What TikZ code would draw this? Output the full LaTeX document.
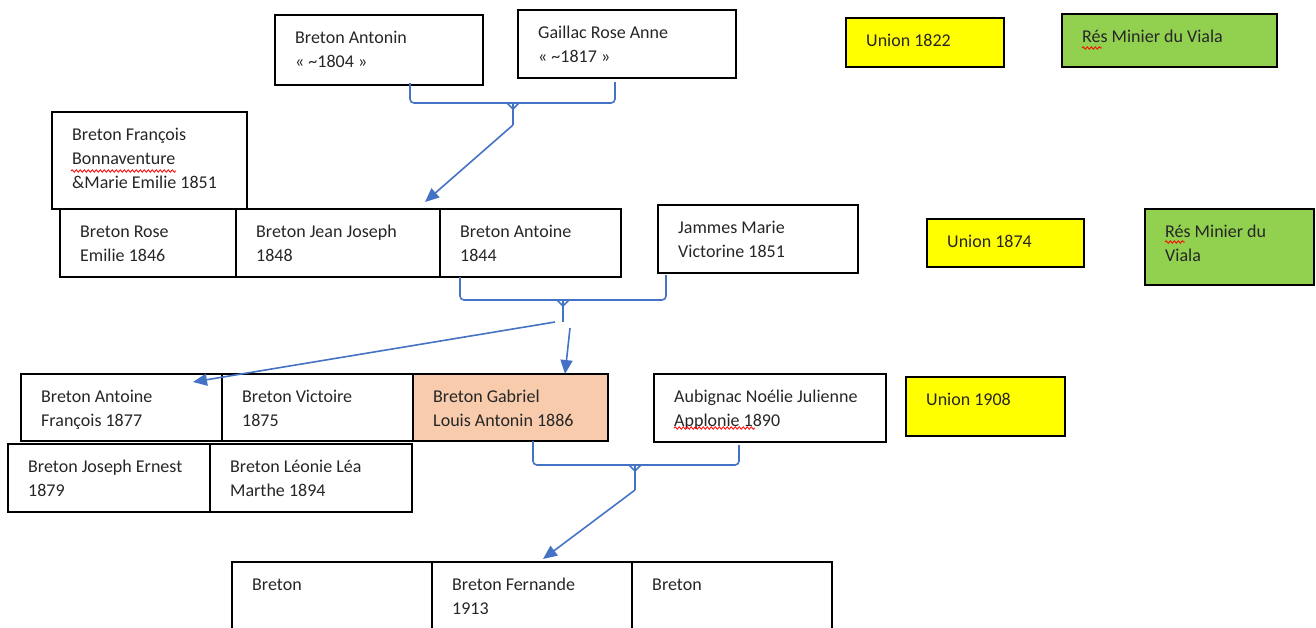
\documentclass[tikz,border=0pt]{standalone}
\usepackage{fontspec}
\setmainfont{Carlito}
\usetikzlibrary{arrows.meta,calc,decorations.pathmorphing}
\definecolor{cyel}{HTML}{FFFF00}
\definecolor{cgreen}{HTML}{92D050}
\definecolor{cpeach}{HTML}{F8CBAD}
\definecolor{cblue}{HTML}{4472C4}
\definecolor{txtc}{HTML}{262626}
\tikzset{
  cell/.style={draw=black, line width=1.4pt, rectangle, inner sep=0pt, outer sep=0pt},
  txt/.style={inner sep=0pt, align=left, font=\fontsize{18}{24}\selectfont, text=txtc, anchor=north west},
  conn/.style={draw=cblue, line width=1.6pt},
  arr/.style={conn, -{Triangle[length=14pt,width=12pt]}},
  squig/.style={draw=red, line width=0.8pt, decorate, decoration={snake, amplitude=1.2pt, segment length=4pt}},
  uni/.style={fill=cyel},
  res/.style={fill=cgreen},
  hl/.style={fill=cpeach}
}
\newcommand\famcell[6][]{%
  \node[cell,#1,minimum width=#4pt,minimum height=#5pt,anchor=north west] (#2) at (#3) {};
  \node[txt] (#2-t) at ($(#2.north west)+(20,11)$) {\strut #6};}
\begin{document}
\begin{tikzpicture}[x=1pt,y=-1pt]
\useasboundingbox (0,0) rectangle (1316,627);
\clip (0,0) rectangle (1316,627);
% generation 1
\famcell{antonin}{275,15}{208}{70}{Breton Antonin\\« \textasciitilde1804 »}
\famcell{gaillac}{518,10}{218}{68}{Gaillac Rose Anne\\« \textasciitilde1817 »}
\famcell[uni]{u1822}{846,18}{158}{49}{Union 1822}
\famcell[res]{res1}{1062,14}{215}{53}{Rés Minier du Viala}
% generation 2
\famcell{francois}{52,112}{195}{97}{Breton François\\Bonnaventure\\\&Marie Emilie 1851}
\famcell{rose}{60,209}{176}{68}{Breton Rose\\Emilie 1846}
\famcell{jean}{236,209}{204}{68}{Breton Jean Joseph\\1848}
\famcell{antoine}{440,209}{181}{68}{Breton Antoine\\1844}
\famcell{jammes}{658,205}{200}{68}{Jammes Marie\\Victorine 1851}
\famcell[uni]{u1874}{927,219}{157}{48}{Union 1874}
\famcell[res]{res2}{1145,209}{169}{76}{Rés Minier du\\Viala}
% generation 3
\famcell{afr}{21,374}{201}{67}{Breton Antoine\\François 1877}
\famcell{vict}{222,374}{191}{67}{Breton Victoire\\1875}
\famcell[hl]{gab}{413,374}{195}{67}{Breton Gabriel\\Louis Antonin 1886}
\famcell{aub}{654,374}{232}{68}{Aubignac Noélie Julienne\\Applonie 1890}
\famcell[uni]{u1908}{906,377}{159}{59}{Union 1908}
\famcell{jos}{8,444}{202}{68}{Breton Joseph Ernest\\1879}
\famcell{leo}{210,444}{202}{68}{Breton Léonie Léa\\Marthe 1894}
% generation 4
\famcell{b1}{232,562}{200}{80}{Breton}
\famcell{fern}{432,562}{200}{80}{Breton Fernande\\1913}
\famcell{b3}{632,562}{200}{80}{Breton}
% spelling marks
\draw[squig] (71,171) -- (176,171);
\draw[squig] (1082,48) -- (1102,48);
\draw[squig] (1165,242) -- (1185,242);
\draw[squig] (674,428) -- (755,428);
% connectors: generation 1 -> 2
\coordinate (j1) at (513,103);
\draw[conn, rounded corners=4pt] ($(antonin.south west)+(135,-2)$) |- (j1) -| ($(gaillac.south west)+(97,4)$);
\draw[conn] ($(j1)+(-6,0)$) -- ($(j1)+(0,6)$) -- ($(j1)+(6,0)$);
\draw[conn] (j1) -- ++(0,22) coordinate (s1);
\draw[arr] (s1) -- ($(jean.north east)+(-15,-7)$);
% generation 2 -> 3
\coordinate (j2) at (563,300);
\draw[conn, rounded corners=4pt] ($(antoine.south west)+(20,0)$) |- (j2) -| ($(jammes.south west)+(8,2)$);
\draw[conn] ($(j2)+(-6,0)$) -- ($(j2)+(0,6)$) -- ($(j2)+(6,0)$);
\draw[conn] (j2) -- ++(0,22) coordinate (s2);
\draw[arr] ($(s2)+(-8,0)$) -- ($(afr.north east)+(-29,8)$);
\draw[arr] ($(s2)+(7,6)$) -- ($(gab.north west)+(152,0)$);
% generation 3 -> 4
\coordinate (j3) at (635,465);
\draw[conn, rounded corners=4pt] ($(gab.south west)+(120,0)$) |- (j3) -| ($(aub.south west)+(85,3)$);
\draw[conn] ($(j3)+(-6,0)$) -- ($(j3)+(0,6)$) -- ($(j3)+(6,0)$);
\draw[conn] (j3) -- ++(0,25) coordinate (s3);
\draw[arr] (s3) -- ($(fern.north west)+(111,-3)$);
\end{tikzpicture}
\end{document}
